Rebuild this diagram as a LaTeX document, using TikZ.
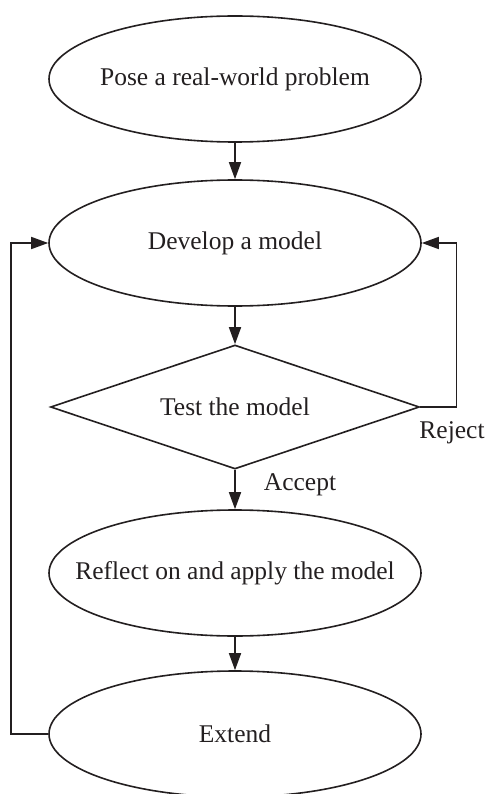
\documentclass[tikz,border=0pt]{standalone}
\usepackage{fontspec}
\setmainfont{Liberation Serif}
\usetikzlibrary{shapes.geometric,arrows.meta}
\definecolor{ink}{HTML}{231F20}
\newcommand{\zbox}[1]{\makebox[0pt][c]{#1}}
\begin{document}
\begin{tikzpicture}[x=1pt,y=-1pt,
  oval/.style={draw=ink, line width=1.6pt, ellipse, minimum width=372pt, minimum height=126pt, inner sep=0pt, text=ink, font=\fontsize{25.5}{30}\selectfont},
  dia/.style={draw=ink, line width=1.6pt, diamond, aspect=2.976, minimum width=369pt, minimum height=124pt, inner sep=0pt, text=ink, font=\fontsize{25.5}{30}\selectfont},
  arr/.style={draw=ink, line width=1.6pt, -{Triangle[length=17pt,width=12pt]}},
  lbl/.style={text=ink, font=\fontsize{25.5}{30}\selectfont, inner sep=0pt}]
\useasboundingbox (0,0) rectangle (486,794);
\node[oval] (e1) at (235,79) {\zbox{Pose a real-world problem}};
\node[oval] (e2) at (235,243) {\zbox{Develop a model}};
\node[dia] (d) at (235,407) {\zbox{Test the model}};
\node[oval] (e3) at (235,573) {\zbox{Reflect on and apply the model}};
\node[oval] (e4) at (235,734) {\zbox{Extend}};
\draw[arr] (e1.south) -- (e2.north);
\draw[arr] (e2.south) -- (d.north);
\draw[arr] (d.south) -- (e3.north);
\draw[arr] (e3.south) -- (e4.north);
\draw[arr] (d.east) -- ++(36,0) |- (e2.east);
\draw[arr] (e4.west) -- ++(-37,0) |- (e2.west);
\node[lbl, anchor=base] (rej) at (452,438) {Reject};
\node[lbl, anchor=base] (acc) at (300,490) {Accept};
\end{tikzpicture}
\end{document}
